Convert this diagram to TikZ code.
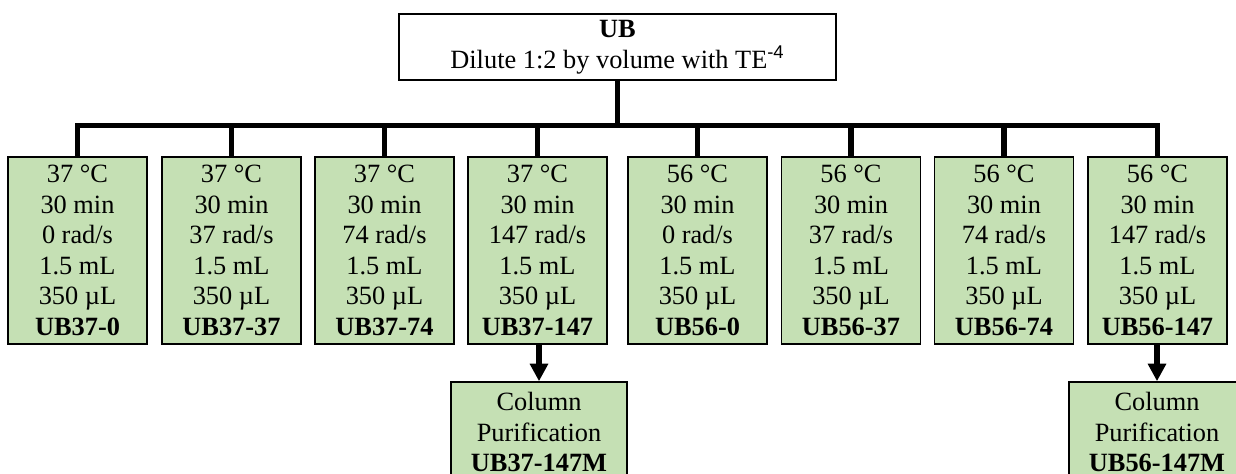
\documentclass[tikz,border=0pt]{standalone}
\usepackage{fontspec}
\setmainfont{Liberation Serif}
\setsansfont{Liberation Sans}
\usetikzlibrary{positioning}
\usetikzlibrary{arrows.meta}
\definecolor{boxgreen}{HTML}{C5E0B4}
\tikzset{
	topbox/.style={draw, line width=0.9pt, fill=white, minimum width=8.74cm, minimum height=1.32cm, align=center, inner sep=0pt},
	runbox/.style={draw, line width=0.9pt, fill=boxgreen, minimum width=2.78cm, minimum height=3.74cm, align=center, inner sep=0pt},
	purbox/.style={draw, line width=0.9pt, fill=boxgreen, minimum width=3.52cm, minimum height=2cm, align=center, inner sep=0pt},
	bus/.style={line width=2.9pt, line join=miter},
	feed/.style={line width=2.9pt, -{Triangle[width=10pt,length=10pt]}},
}

\begin{document}
\begin{tikzpicture}[x=0.02cm, y=-0.02cm, font=\fontsize{15}{17.4}\selectfont]
	\clip (0,0) rectangle (1236,473);
	\fill[white] (0,0) rectangle (1236,473);
	\node[topbox] (ub) at (617.5,47) {\textbf{UB}\\ Dilute 1:2 by volume with TE\textsuperscript{\sffamily -4}};
	
	% eight runs: position/temperature/speed/label
	\foreach \i/\xx/\temp/\rate in {1/77.5/37/0, 2/231.5/37/37, 3/384.5/37/74, 4/537.5/37/147, 5/697.5/56/0, 6/851/56/37, 7/1004/56/74, 8/1157.5/56/147}{
		\node[runbox] (t\i) at (\xx,250.5) {\temp~°C\\ 30 min\\ \rate~rad/s\\ 1.5 mL\\ 350 µL\\ \textbf{UB\temp-\rate}};
	}
	\coordinate (bus) at (617.5,125.5);
	\draw[bus] (ub.south) -- (ub.south |- bus);
	\draw[bus] (t1.north) -- (t1.north |- bus) -- (t8.north |- bus) -- (t8.north);
	\foreach \i in {2,...,7}{
		\draw[bus] (t\i.north |- bus) -- (t\i.north);
	}
	
	\node[purbox] (m4) at (539,432) {Column\\ Purification\\ \textbf{UB37-147M}};
	\node[purbox] (m8) at (1157,432) {Column\\ Purification\\ \textbf{UB56-147M}};
	\draw[feed] (m4.north |- t4.south) -- (m4.north);
	\draw[feed] (m8.north |- t8.south) -- (m8.north);
\end{tikzpicture}
\end{document}
